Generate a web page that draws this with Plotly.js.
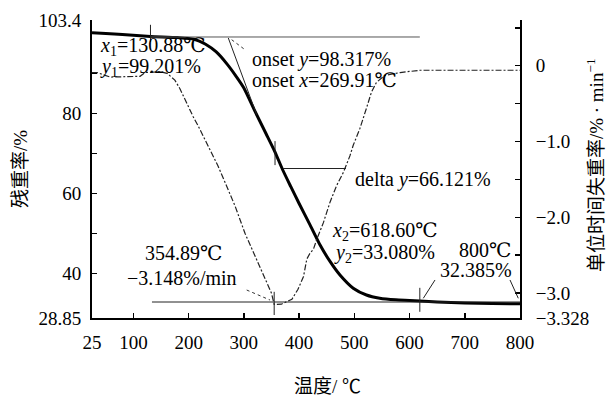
<!DOCTYPE html>
<html><head><meta charset="utf-8">
<script src="https://cdn.plot.ly/plotly-3.0.1.min.js"></script>
<style>html,body{margin:0;padding:0;background:#fff}#chart{width:606px;height:401px}</style>
</head><body><div id="chart"></div>
<script>
// TG curve: temperature (°C) vs residual mass (%)
const tgTemp = [25, 50, 80, 130.88, 180, 210, 230, 250, 270, 285, 300, 320, 340, 356, 370, 385, 400, 420, 438, 456, 474, 498, 522, 546, 575, 600, 618.6, 650, 700, 750, 800];
const tgMass = [100.2, 100.0, 99.75, 99.3, 99.0, 98.6, 97.4, 95.4, 92.3, 89.5, 86.4, 80.6, 75.0, 70.5, 66.0, 61.7, 57.5, 52.1, 47.1, 43.0, 39.6, 36.3, 34.6, 33.8, 33.4, 33.25, 33.1, 32.85, 32.6, 32.5, 32.4];
// DTG curve: temperature (°C) vs mass loss rate (%/min)
const dtgTemp = [25, 34, 58, 94, 112, 121, 148, 161, 175, 184, 197, 208, 217, 224, 231, 242, 253, 266, 284, 302, 320, 338, 350, 354.89, 368, 387, 398, 408, 414, 420, 426, 432, 444, 456, 468, 480, 492, 498, 510, 522, 531, 540, 555, 583, 619, 690, 800];
const dtgRate = [-0.09, -0.09, -0.15, -0.15, -0.14, -0.09, -0.08, -0.10, -0.19, -0.30, -0.51, -0.67, -0.79, -0.89, -0.99, -1.15, -1.32, -1.54, -1.85, -2.21, -2.51, -2.82, -3.00, -3.148, -3.146, -3.08, -2.95, -2.78, -2.55, -2.47, -2.42, -2.29, -2.07, -1.80, -1.58, -1.41, -1.19, -1.05, -0.83, -0.56, -0.35, -0.22, -0.13, -0.09, -0.06, -0.06, -0.06];

const xTickVals = [25, 100, 200, 300, 400, 500, 600, 700, 800];
const xTickText = ["25", "100", "200", "300", "400", "500", "600", "700", "800"];
const leftTickVals = [28.85, 40, 60, 80, 103.4];
const leftTickText = ["28.85", "40", "60", "80", "103.4"];
const leftMinorVals = [50, 70, 90];
const rightTickVals = [-3.328, -3, -2, -1, 0];
const rightTickText = ["−3.328", "−3.0", "−2.0", "−1.0", "0"];
const rightMinorVals = [-2.5, -1.5, -0.5, 0.5];

const serif = "'Liberation Serif', 'DejaVu Serif', serif";
const cjk = "'Liberation Serif', 'Noto Sans CJK SC', serif";

const traces = [
  {x: dtgTemp, y: dtgRate, yaxis: 'y2', mode: 'lines', type: 'scatter',
   line: {color: '#222', width: 1.2, dash: '6px,2px,2px,2px'}, hoverinfo: 'skip'},
  {x: tgTemp, y: tgMass, mode: 'lines', type: 'scatter', line: {color: '#000', width: 3, shape: 'spline', smoothing: 0.6}, hoverinfo: 'skip'}
];

function seg(x0, y0, x1, y1, opts) {
  return Object.assign({type: 'line', xref: 'x', yref: 'y', x0, y0, x1, y1,
    line: {color: '#222', width: 1}}, opts || {});
}
const shapes = [
  seg(130.88, 99.15, 618.6, 99.15, {line: {color: '#555', width: 1}}),
  seg(130.88, 102.2, 130.88, 97.9),
  seg(271.8, 98.9, 323.2, 79.7),
  seg(277.9, 98.47, 302.0, 95.97, {line: {color: '#333', width: 1, dash: 'dot'}}),
  seg(356.4, 73.1, 356.4, 67.1),
  seg(370.8, 66.25, 484.9, 66.25),
  seg(133.6, 32.85, 800, 32.85),
  seg(354.89, 35.4, 354.89, 29.6),
  seg(305.1, 35.85, 347.3, 33.35, {line: {color: '#333', width: 1, dash: 'dot'}}),
  seg(618.6, 36.4, 618.6, 30.4),
  seg(646.1, 38.36, 624.9, 33.78),
  seg(781.9, 38.36, 796.9, 33.78)
];

function lab(x, y, text) {
  return {x, y, xref: 'x', yref: 'y', text, showarrow: false, xanchor: 'left', yanchor: 'middle',
    font: {family: serif, size: 20, color: '#000'}};
}
const annotations = [
  lab(35.9, 96.8, "<i>x</i><sub>1</sub>=130.88℃"),
  lab(35.9, 91.4, "<i>y</i><sub>1</sub>=99.201%"),
  lab(311.1, 93.4, "onset <i>y</i>=98.317%"),
  lab(311.1, 88.4, "onset <i>x</i>=269.91℃"),
  lab(497.6, 63.4, "delta <i>y</i>=66.121%"),
  lab(455.9, 50.6, "<i>x</i><sub>2</sub>=618.60℃"),
  lab(459.6, 45.1, "<i>y</i><sub>2</sub>=33.080%"),
  lab(685.9, 45.9, "800℃"),
  lab(651.5, 40.9, "32.385%"),
  lab(117.3, 45.1, "354.89℃"),
  lab(84.8, 38.9, "−3.148%/min"),
  {x: 0.5514, y: -0.2315, xref: 'paper', yref: 'paper', text: "温度/ ℃", showarrow: false,
   xanchor: 'center', yanchor: 'middle', font: {family: cjk, size: 19, color: '#000'}},
  {x: 1.1752, y: 0.513, xref: 'paper', yref: 'paper', text: "单位时间失重率/% · min<sup>−1</sup>", showarrow: false,
   textangle: -90, xanchor: 'center', yanchor: 'middle', font: {family: cjk, size: 19, color: '#000'}}
];

const axisCommon = {showgrid: false, zeroline: false, showline: true, linecolor: '#000', linewidth: 2,
  ticks: 'inside', ticklen: 5, tickwidth: 1.5, tickcolor: '#000', tickmode: 'array',
  tickfont: {family: serif, size: 19, color: '#000'}, fixedrange: true};
const minorCommon = {ticks: 'inside', ticklen: 5, tickwidth: 1.5, tickcolor: '#000', showgrid: false, tickmode: 'array'};

const layout = {
  width: 606, height: 401,
  margin: {l: 92, r: 86, t: 20, b: 83, pad: 0},
  paper_bgcolor: '#fff', plot_bgcolor: '#fff',
  showlegend: false,
  font: {family: serif},
  xaxis: Object.assign({}, axisCommon, {range: [25, 800], tickvals: xTickVals, ticktext: xTickText, ticklabelstandoff: 6}),
  yaxis: Object.assign({}, axisCommon, {range: [28.85, 103.4], tickvals: leftTickVals, ticktext: leftTickText, ticklabelstandoff: 5,
    minor: Object.assign({}, minorCommon, {tickvals: leftMinorVals}),
    title: {text: "残重率/%", font: {family: cjk, size: 19, color: '#000'}, standoff: 6}}),
  yaxis2: Object.assign({}, axisCommon, {range: [-3.328, 0.603], overlaying: 'y', side: 'right', tickvals: rightTickVals, ticktext: rightTickText, ticklabelstandoff: 10,
    minor: Object.assign({}, minorCommon, {tickvals: rightMinorVals})}),
  shapes, annotations
};

Plotly.newPlot('chart', traces, layout, {displayModeBar: false, staticPlot: true});
</script></body></html>
